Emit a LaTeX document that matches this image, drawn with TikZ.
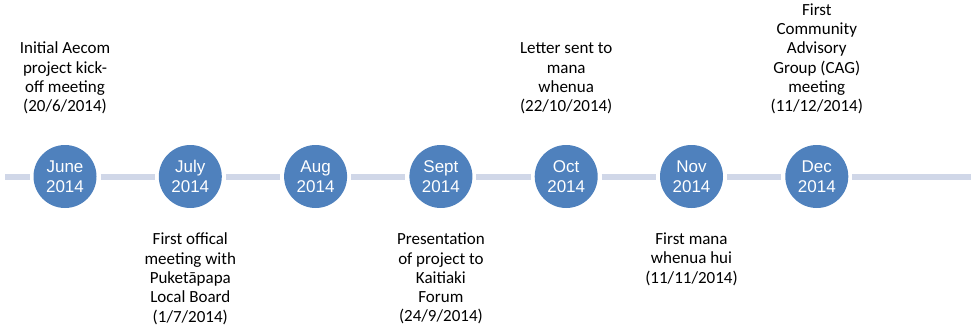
\documentclass[tikz,border=0pt]{standalone}
\usepackage{fontspec}
\setmainfont{Carlito}
\newfontfamily\monthfont{Liberation Sans}
\usetikzlibrary{positioning}

\definecolor{monthblue}{HTML}{4F81BD}
\definecolor{axisgrey}{HTML}{D0D7E8}

\begin{document}
\begin{tikzpicture}[x=1pt,y=-1pt,node distance=125.3pt,on grid,
    month/.style={circle,fill=monthblue,minimum size=63pt,inner sep=0pt,outer sep=4pt,
      text=white,align=center,font=\monthfont\fontsize{17}{20}\selectfont},
    event/.style={on grid=false,align=center,inner sep=0pt,outer sep=0pt,
      font=\fontsize{17}{19.3}\selectfont},
    axis/.style={draw=axisgrey,line width=6pt}]
  \useasboundingbox (0,0) rectangle (971,326);

  \coordinate (start) at (5,176.5);
  \coordinate (stop)  at (971,176.5);

  \node[month]           (jun) at (65,176.5) {June\\2014};
  \node[month]           (jul) [right=of jun] {July\\2014};
  \node[month]           (aug) [right=of jul] {Aug\\2014};
  \node[month]           (sep) [right=of aug] {Sept\\2014};
  \node[month]           (oct) [right=of sep] {Oct\\2014};
  \node[month]           (nov) [right=of oct] {Nov\\2014};
  \node[month]           (dec) [right=of nov] {Dec\\2014};

  \path[axis] (start) edge (jun)
              (jun)   edge (jul)
              (jul)   edge (aug)
              (aug)   edge (sep)
              (sep)   edge (oct)
              (oct)   edge (nov)
              (nov)   edge (dec)
              (dec)   edge (stop);

  % events above the line
  \node[event] (kickoff) [above=27pt of jun] {Initial Aecom\\project kick-\\off meeting\\(20/6/2014)};
  \node[event] (letter)  [above=27pt of oct] {Letter sent to\\mana\\whenua\\(22/10/2014)};
  \node[event] (cag)     [above=27pt of dec] {First\\Community\\Advisory\\Group (CAG)\\meeting\\(11/12/2014)};

  % events below the line
  \node[event] (board)   [below=21pt of jul] {First offical\\meeting with\\Puketāpapa\\Local Board\\(1/7/2014)};
  \node[event] (forum)   [below=21pt of sep] {Presentation\\of project to\\Kaitiaki\\Forum\\(24/9/2014)};
  \node[event] (hui)     [below=21pt of nov] {First mana\\whenua hui\\(11/11/2014)};

\end{tikzpicture}
\end{document}
